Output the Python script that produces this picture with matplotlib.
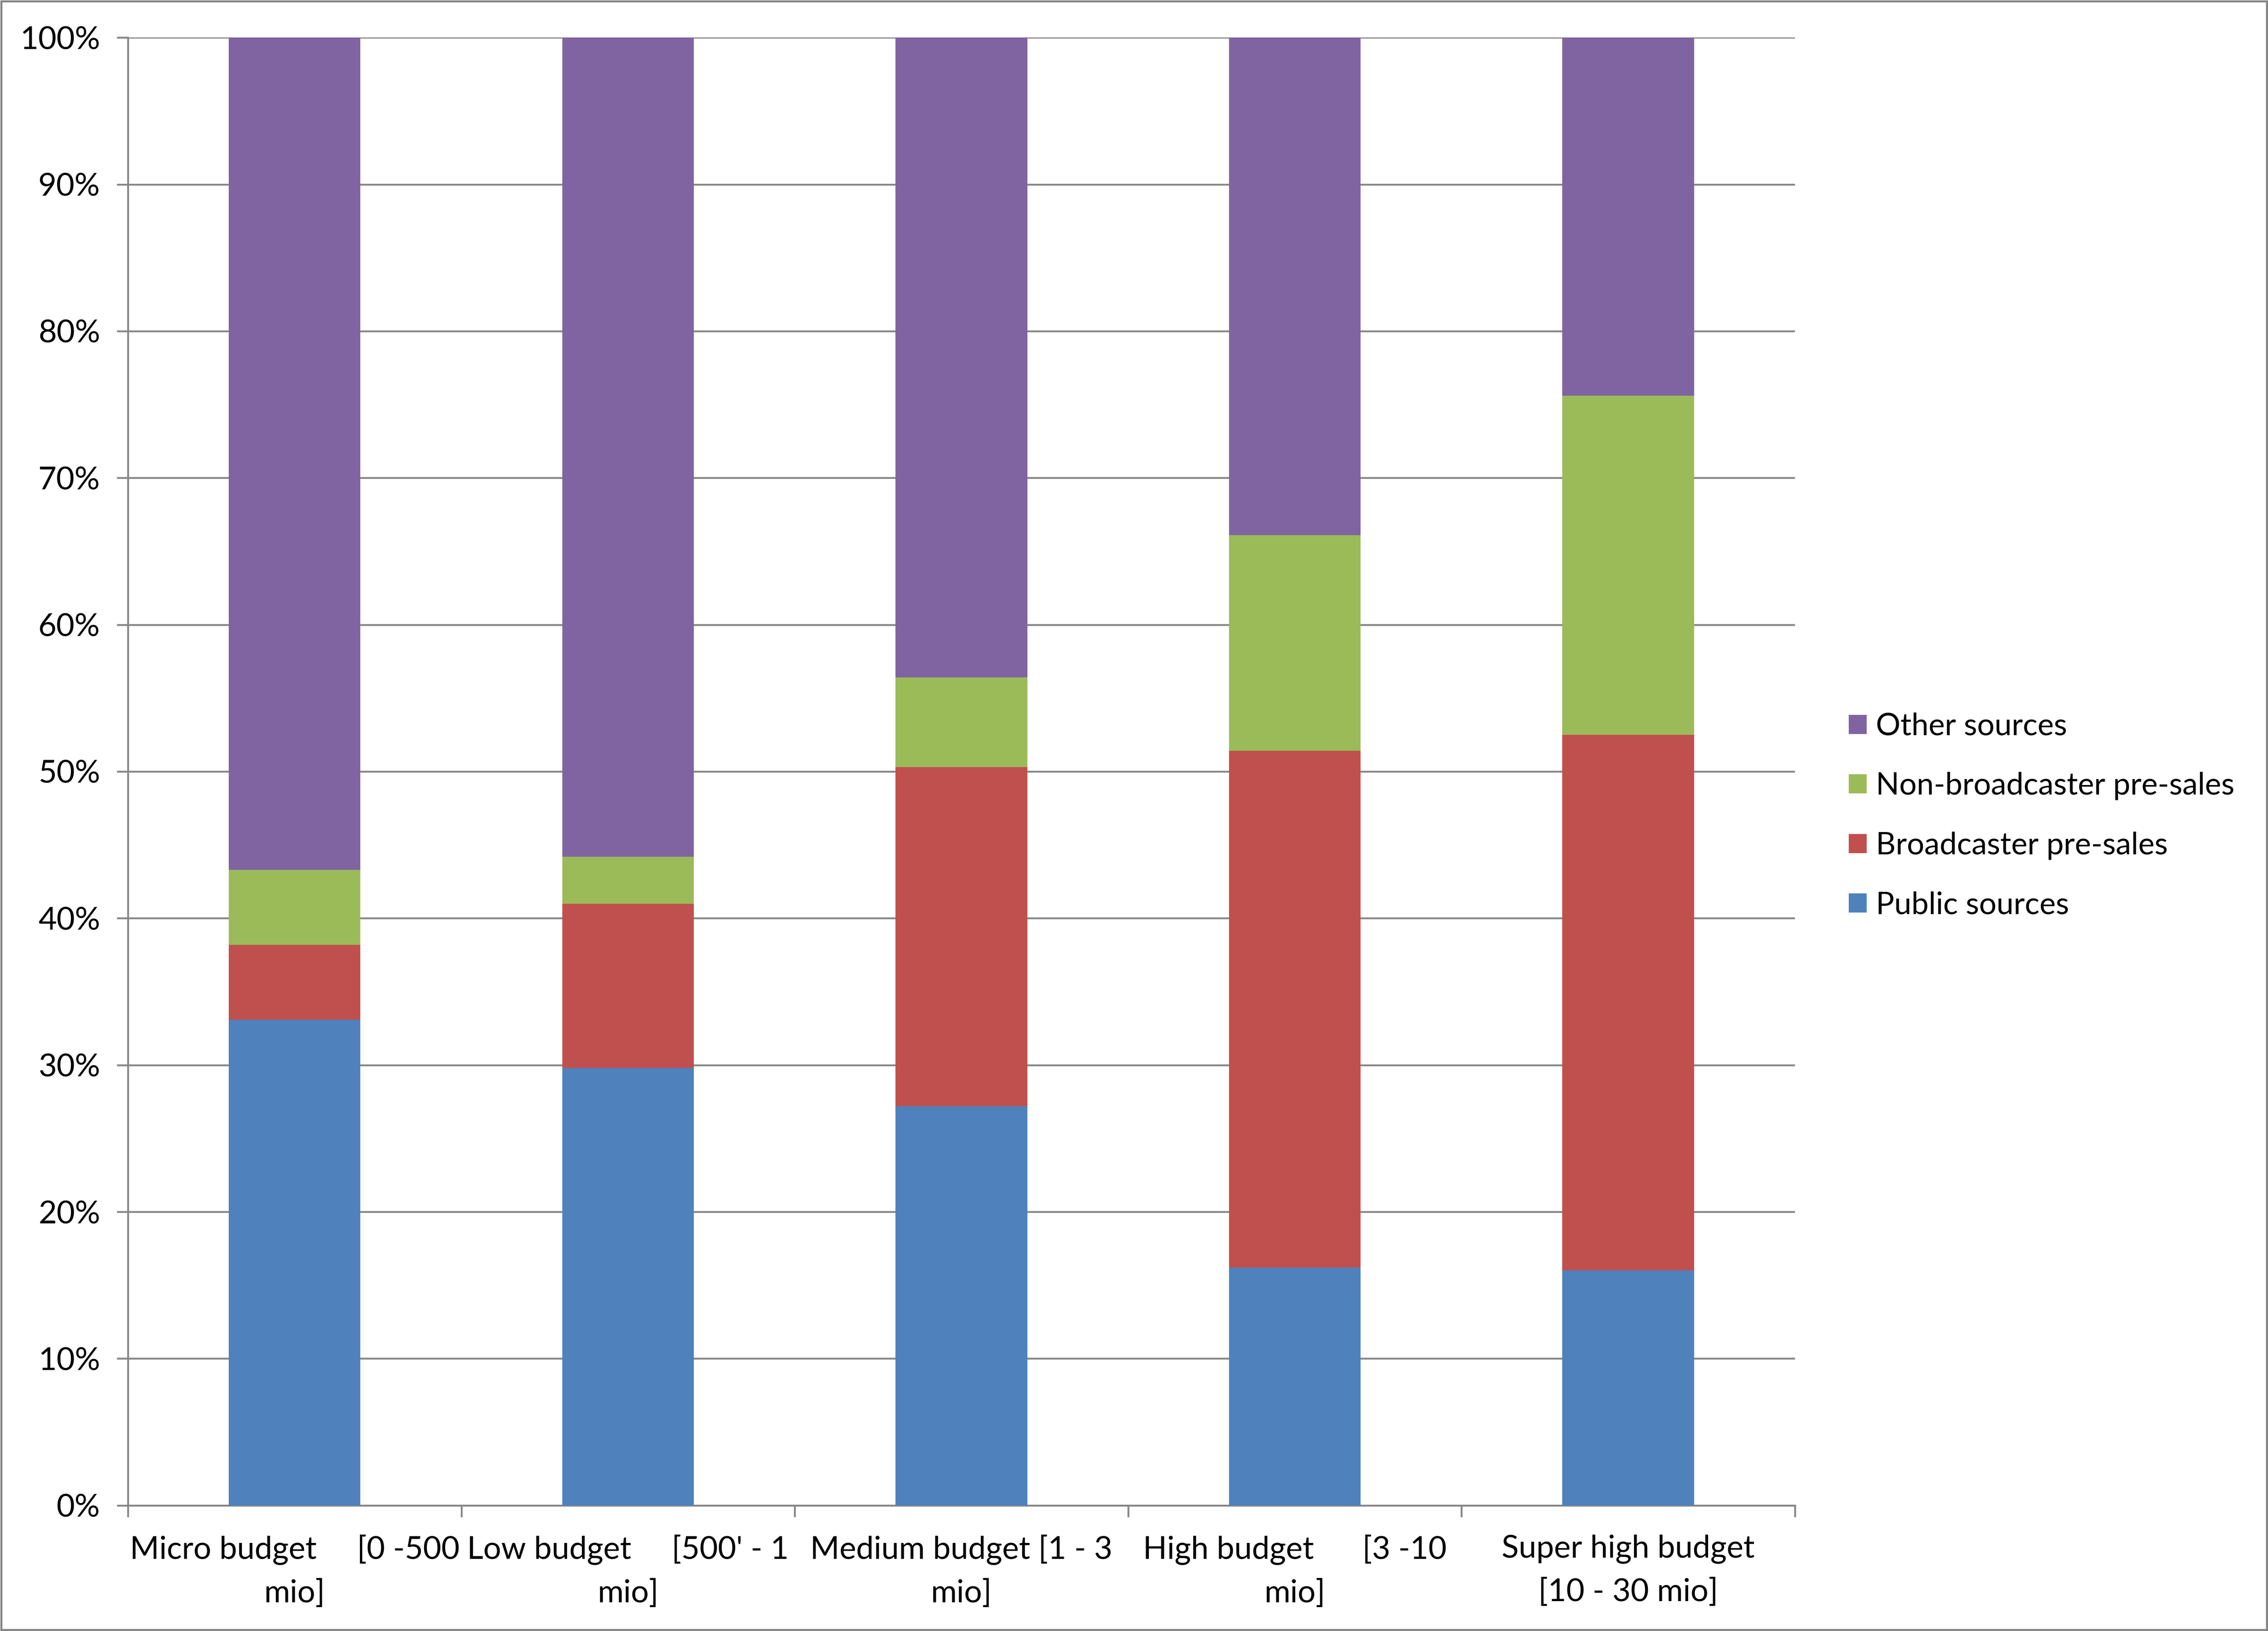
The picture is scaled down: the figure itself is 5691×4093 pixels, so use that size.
import matplotlib
matplotlib.use("Agg")
import matplotlib.pyplot as plt
import numpy as np
from matplotlib.patches import Rectangle, Patch

categories = [
    "Micro budget     [0 -500\nmio]",
    "Low budget     [500' - 1\nmio]",
    "Medium budget [1 - 3\nmio]",
    "High budget      [3 -10\nmio]",
    "Super high budget\n[10 - 30 mio]",
]
series_names = ["Public sources", "Broadcaster pre-sales", "Non-broadcaster pre-sales", "Other sources"]
public_sources = [33.1, 29.8, 27.2, 16.2, 16.0]
broadcaster_presales = [5.1, 11.2, 23.1, 35.2, 36.5]
nonbroadcaster_presales = [5.1, 3.2, 6.1, 14.7, 23.1]
other_sources = [56.7, 55.8, 43.6, 33.9, 24.4]
y_ticks = [0, 10, 20, 30, 40, 50, 60, 70, 80, 90, 100]
y_tick_labels = ["0%", "10%", "20%", "30%", "40%", "50%", "60%", "70%", "80%", "90%", "100%"]

colors = ["#4F81BD", "#C0504D", "#9BBB59", "#8064A2"]
grid_col = "#868686"

plt.rcParams['font.family'] = ['Lato', 'DejaVu Sans']
FS = 19

fig = plt.figure(figsize=(5691 / 300, 4093 / 300), dpi=300)
ax = fig.add_axes([0.0564, 0.0770, 0.7914 - 0.0564, 0.977 - 0.0770])

x = np.arange(len(categories))
data = [public_sources, broadcaster_presales, nonbroadcaster_presales, other_sources]
bottom = np.zeros(len(categories))
for vals, col, name in zip(data, colors, series_names):
    v = np.array(vals, dtype=float)
    ax.bar(x, v, 0.395, bottom=bottom, color=col, label=name, zorder=3)
    bottom += v

ax.set_xlim(-0.5, len(categories) - 0.5)
ax.set_ylim(0, 100)
ax.set_yticks(y_ticks)
ax.set_yticklabels(y_tick_labels, fontsize=FS)
ax.yaxis.grid(True, color=grid_col, linewidth=1.1, zorder=0)
ax.set_axisbelow(True)

ax.set_xticks(x)
ax.set_xticklabels(categories, fontsize=FS, linespacing=1.58, multialignment='center')
ax.tick_params(axis='x', which='major', length=0, pad=17.5)
ax.set_xticks(np.arange(len(categories) + 1) - 0.5, minor=True)
ax.tick_params(axis='x', which='minor', length=7, width=1.1, color=grid_col, direction='out')
ax.tick_params(axis='y', length=6.7, width=1.1, color=grid_col, direction='out', pad=10)

for s in ['top', 'right']:
    ax.spines[s].set_visible(False)
for s in ['left', 'bottom']:
    ax.spines[s].set_color(grid_col)
    ax.spines[s].set_linewidth(1.1)

handles = [Patch(facecolor=c, edgecolor='none') for c in colors[::-1]]
labels = series_names[::-1]
fig.legend(handles, labels, loc='center left', bbox_to_anchor=(0.8098, 0.4997),
           frameon=False, fontsize=18.5, handlelength=0.58, handleheight=0.58,
           handletextpad=0.3, labelspacing=1.02, borderaxespad=0)

fig.patches.append(Rectangle((0.0005, 0.0007), 0.999, 0.9986, transform=fig.transFigure,
                             fill=False, edgecolor=grid_col, linewidth=1.2))

fig.savefig("out.png", dpi=300, facecolor='white')
